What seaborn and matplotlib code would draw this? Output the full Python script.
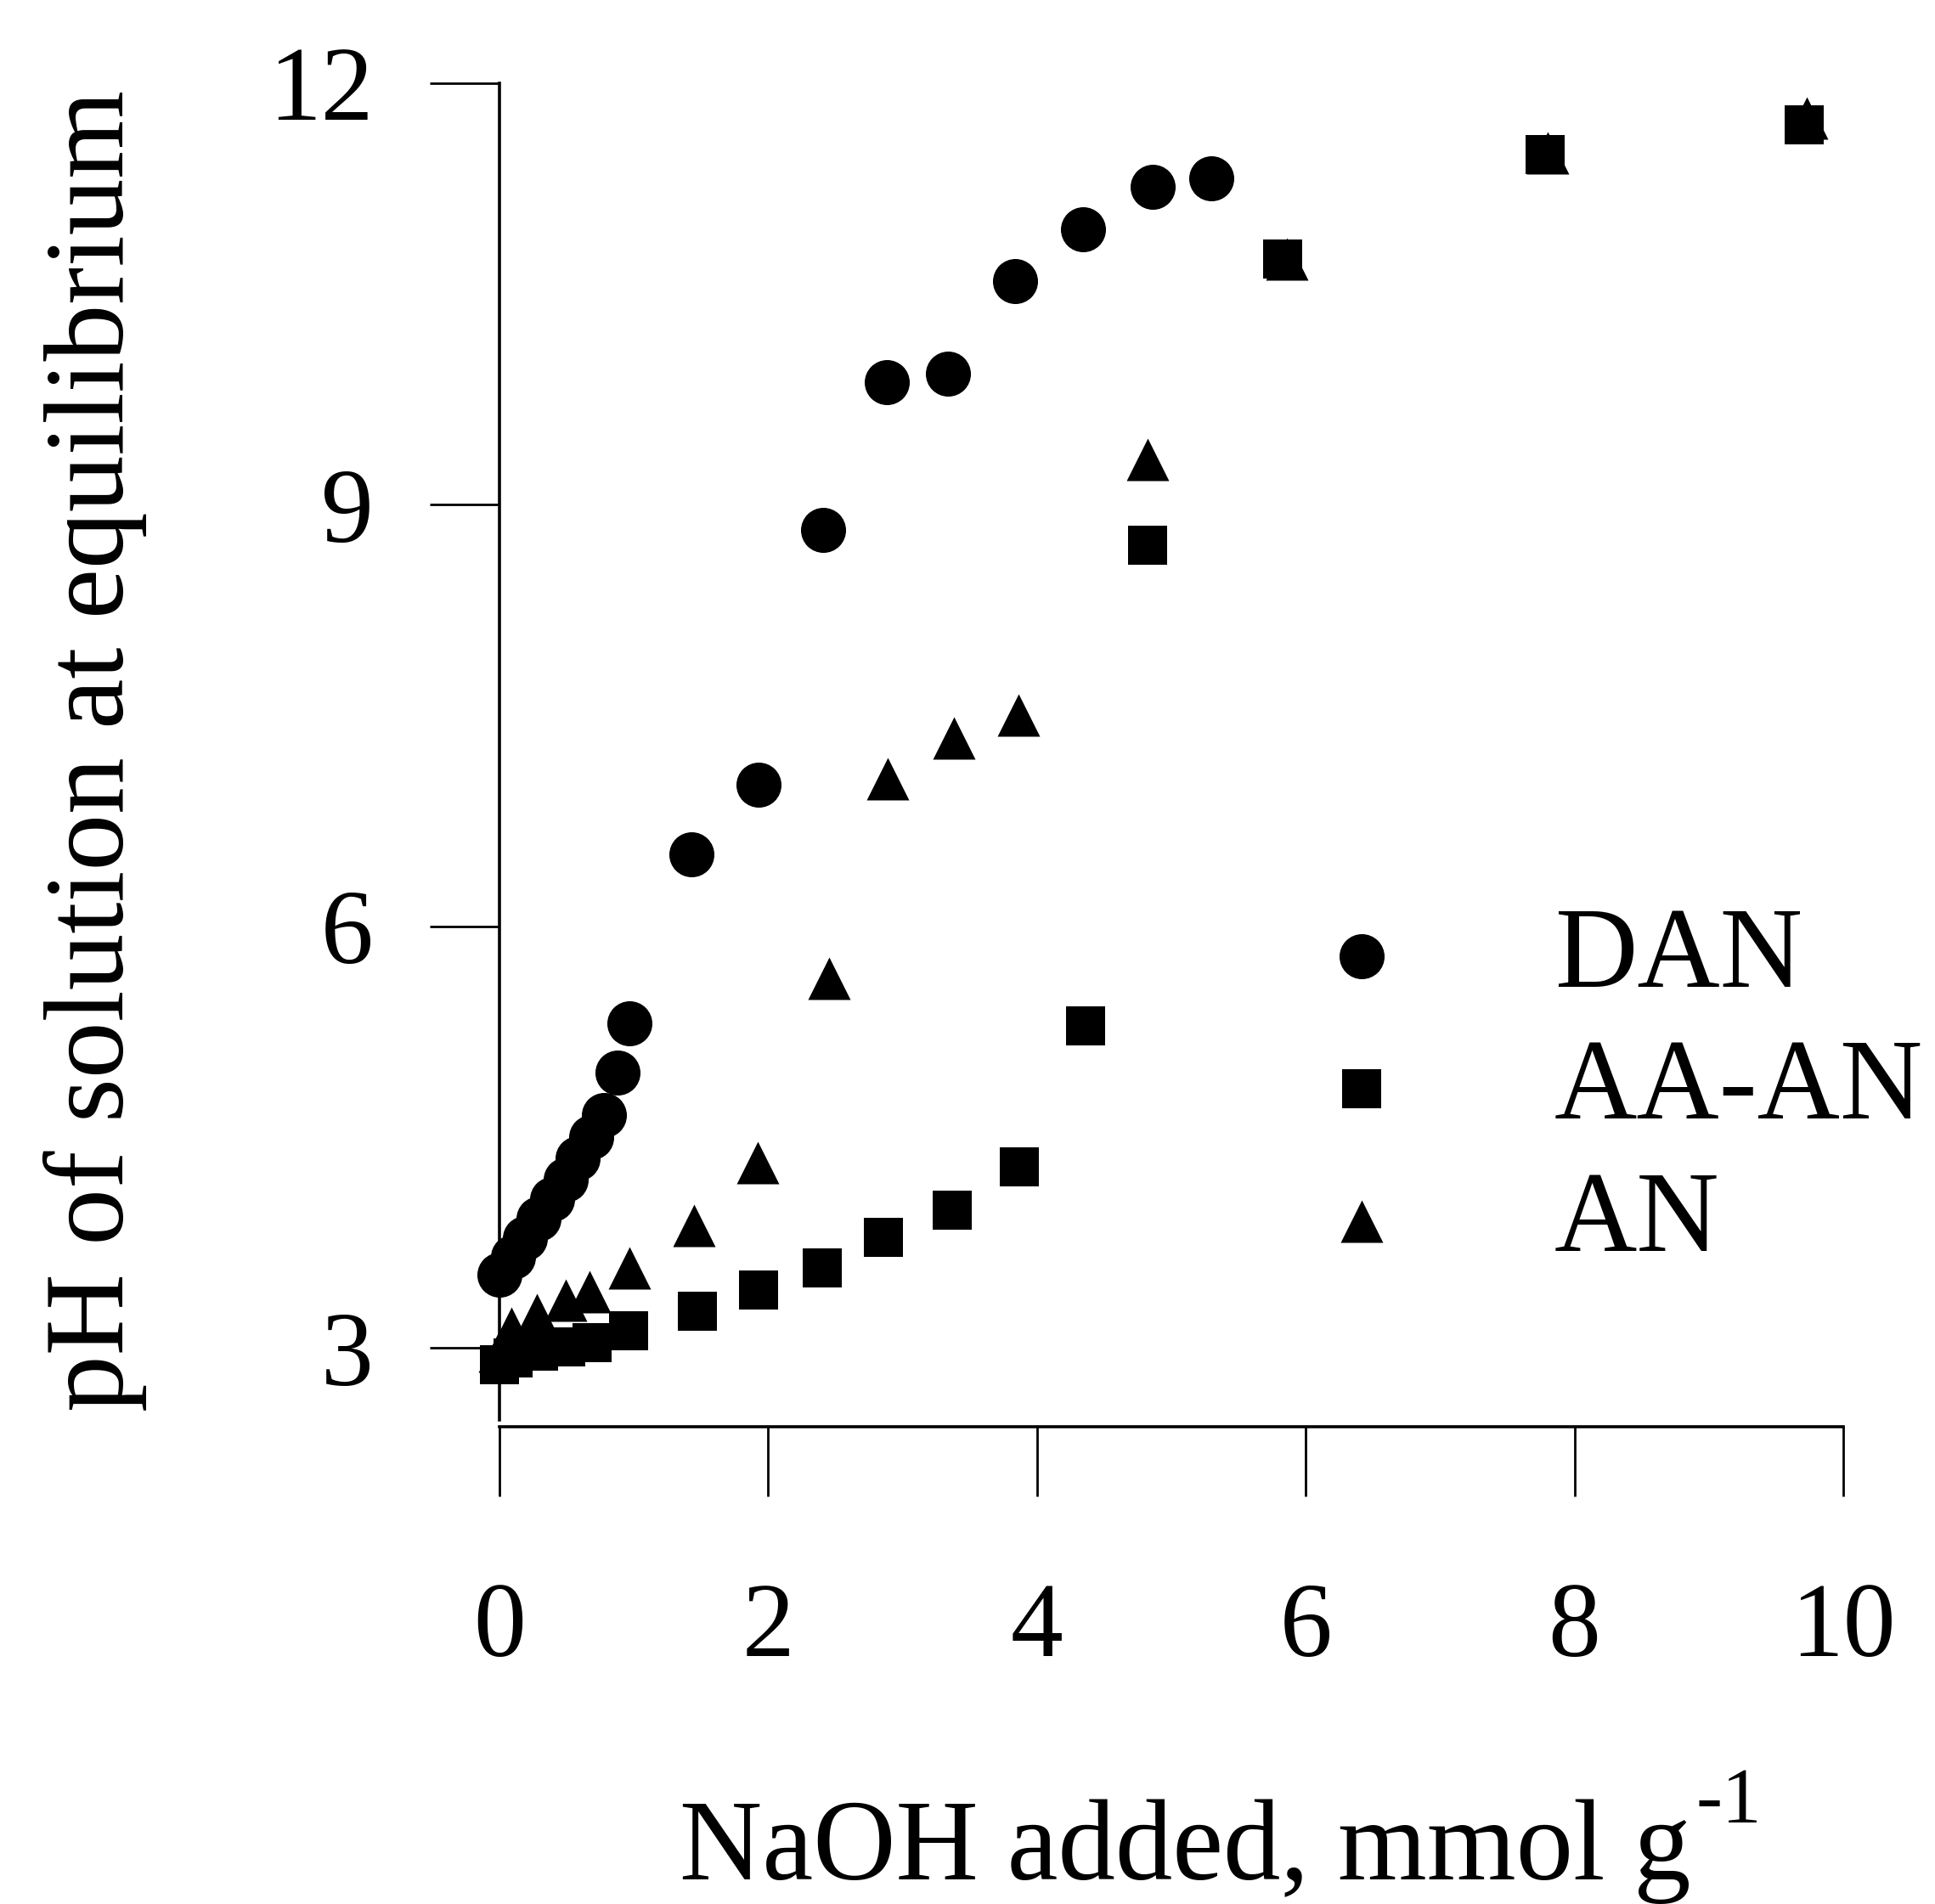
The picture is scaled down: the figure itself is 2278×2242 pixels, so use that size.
import matplotlib
matplotlib.use("Agg")
import matplotlib.pyplot as plt
import seaborn as sns
import pandas as pd

# ---- data ----
dan_x = [0.0, 0.10, 0.19, 0.29, 0.39, 0.49, 0.58, 0.68, 0.78, 0.88, 0.97,
         1.43, 1.93, 2.41, 2.88, 3.34, 3.84, 4.34, 4.86, 5.30]
dan_y = [3.52, 3.65, 3.78, 3.92, 4.06, 4.20, 4.35, 4.50, 4.66, 4.96, 5.31,
         6.51, 7.01, 8.82, 9.87, 9.93, 10.59, 10.96, 11.26, 11.32]

aaan_x = [0.0, 0.10, 0.29, 0.49, 0.69, 0.96, 1.47, 1.93, 2.40, 2.86, 3.37,
          3.87, 4.36, 4.82, 5.83, 7.78, 9.71]
aaan_y = [2.88, 2.93, 2.98, 3.01, 3.04, 3.12, 3.26, 3.41, 3.57, 3.79, 3.98,
          4.29, 5.29, 8.71, 10.75, 11.49, 11.70]

an_x = [0.0, 0.09, 0.28, 0.49, 0.67, 0.97, 1.45, 1.92, 2.45, 2.89, 3.38,
        3.86, 4.82, 5.86, 7.80, 9.73]
an_y = [2.98, 3.14, 3.24, 3.34, 3.40, 3.57, 3.87, 4.32, 5.63, 7.05, 7.34,
        7.50, 9.32, 10.75, 11.50, 11.75]

series_names = ["DAN", "AA-AN", "AN"]
x_ticks = [0, 2, 4, 6, 8, 10]
y_ticks = [3, 6, 9, 12]
x_label_main = "NaOH added, mmol g"
x_label_sup = "-1"
y_label = "pH of solution at equilibrium"

# ---- style ----
sns.set_theme(style="ticks")
plt.rcParams["font.family"] = ["Liberation Serif", "DejaVu Serif"]
plt.rcParams["text.color"] = "black"
plt.rcParams["axes.labelcolor"] = "black"
plt.rcParams["xtick.color"] = "black"
plt.rcParams["ytick.color"] = "black"

W, H = 2278, 2242
fig = plt.figure(figsize=(W / 100, H / 100), dpi=100)
ax = fig.add_axes([588 / W, 1 - 1680 / H, (2170 - 588) / W, (1680 - 97.6) / H])

frames = {
    "DAN": pd.DataFrame({"x": dan_x, "y": dan_y}),
    "AA-AN": pd.DataFrame({"x": aaan_x, "y": aaan_y}),
    "AN": pd.DataFrame({"x": an_x, "y": an_y}),
}
markers = {"DAN": "o", "AA-AN": "s", "AN": "^"}
sizes = {"DAN": 1458, "AA-AN": 1145, "AN": 1296}

for name in series_names:
    sns.scatterplot(data=frames[name], x="x", y="y", ax=ax, marker=markers[name],
                    s=sizes[name], color="black", linewidth=0, label=name,
                    clip_on=False, zorder=3)

ax.set_xlim(0, 10)
ax.set_ylim(2.44, 12)
ax.set_xticks(x_ticks)
ax.set_yticks(y_ticks)
ax.set_xticklabels([str(t) for t in x_ticks])
ax.set_yticklabels([str(t) for t in y_ticks])
ax.set_xlabel("")
ax.set_ylabel("")

for s in ["top", "right"]:
    ax.spines[s].set_visible(False)
ax.spines["left"].set_bounds(2.486, 12)
for s in ["left", "bottom"]:
    ax.spines[s].set_linewidth(2.6)
    ax.spines[s].set_color("black")

ax.tick_params(axis="x", direction="out", length=59, width=2.0, pad=73, labelsize=89)
ax.tick_params(axis="y", direction="out", length=59, width=2.0, pad=48, labelsize=89)

fig.text(112 / W, 1 - 884 / H, y_label, rotation=90, ha="center", va="center",
         fontsize=96)

# x label with a hyphen superscript, placed right after the main text
base_y = 2213
t_main = fig.text(800 / W, 1 - base_y / H, x_label_main, ha="left", va="baseline",
                  fontsize=97)
renderer = fig.canvas.get_renderer()
bb = t_main.get_window_extent(renderer)
fig.text((bb.x1 + 6) / W, 1 - (base_y - 67) / H, x_label_sup, ha="left",
         va="baseline", fontsize=67)

leg_fs = 97
ax.legend(loc="upper left", bbox_to_anchor=(1536 / W, 1 - 1067 / H),
          bbox_transform=fig.transFigure, frameon=False, fontsize=leg_fs,
          handlelength=1.0, handletextpad=1.18, labelspacing=0.24,
          borderpad=0, borderaxespad=0, markerscale=1.0)

fig.savefig("out.png", dpi=100, facecolor="white")
